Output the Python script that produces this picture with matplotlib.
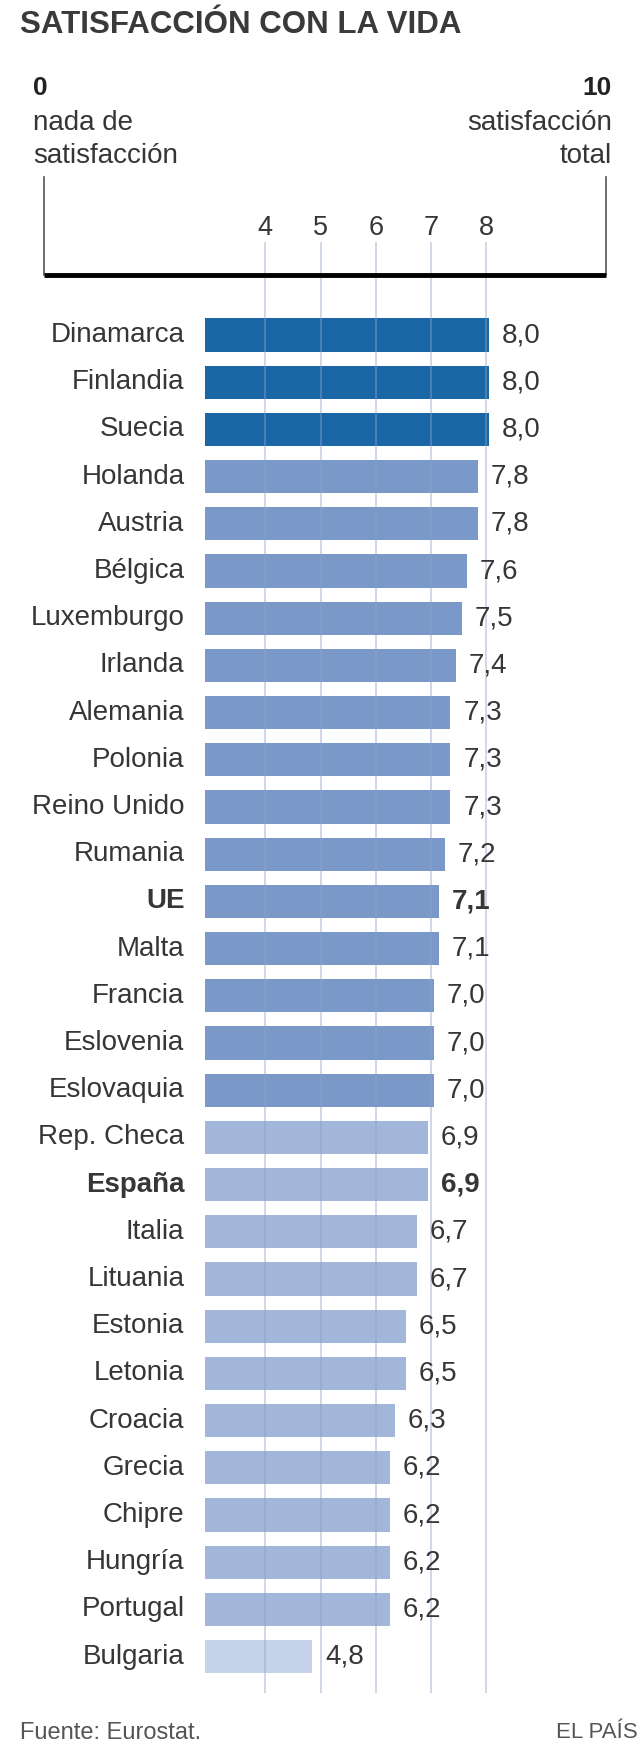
import matplotlib
matplotlib.use("Agg")
import matplotlib.pyplot as plt

plt.rcParams['font.family'] = ['Liberation Sans', 'DejaVu Sans']

countries = ["Dinamarca", "Finlandia", "Suecia", "Holanda", "Austria", "Bélgica",
             "Luxemburgo", "Irlanda", "Alemania", "Polonia", "Reino Unido", "Rumania",
             "UE", "Malta", "Francia", "Eslovenia", "Eslovaquia", "Rep. Checa",
             "España", "Italia", "Lituania", "Estonia", "Letonia", "Croacia",
             "Grecia", "Chipre", "Hungría", "Portugal", "Bulgaria"]
values = [8.0, 8.0, 8.0, 7.8, 7.8, 7.6, 7.5, 7.4, 7.3, 7.3, 7.3, 7.2,
          7.1, 7.1, 7.0, 7.0, 7.0, 6.9, 6.9, 6.7, 6.7, 6.5, 6.5, 6.3,
          6.2, 6.2, 6.2, 6.2, 4.8]
highlight = ["UE", "España"]
grid_ticks = [4, 5, 6, 7, 8]

W, H = 640, 1762
TXT = '#363636'


def fx(px):
    return px / W


def fy(py):
    return 1 - py / H


def bar_color(v):
    if v >= 8:
        return '#1b67a6'
    if v >= 7:
        return '#7a98c8'
    if v >= 6:
        return '#a2b6da'
    return '#c6d2ea'


fig = plt.figure(figsize=(6.4, 17.62), dpi=100)

# row i is centred at 335 + 47.2*i px
top_px, bot_px, row0, step = 242, 1693, 335, 47.2
ax = fig.add_axes([fx(44), fy(bot_px), 553 / W, (bot_px - top_px) / H])
ax.set_xlim(0, 10)
ax.set_ylim((bot_px - row0) / step, (top_px - row0) / step)
ax.axis('off')

base = 2.92
ax.barh(range(len(values)), [v - base + 0.05 for v in values], left=base, height=0.7,
        color=[bar_color(v) for v in values], zorder=2)

for t in grid_ticks:
    ax.axvline(t, color='#8ea2c6', alpha=0.45, lw=1.3, zorder=3)
    ax.text(t, (228 - row0) / step, str(t), ha='center', va='center',
            fontsize=19.5, color=TXT, clip_on=False)

# scale bar on top
y_line = (275 - row0) / step
y_cap = (177 - row0) / step
ax.plot([0, 10.17], [y_line, y_line], color='black', lw=3.5, clip_on=False,
        solid_capstyle='butt', zorder=4)
for xx in [0, 10.17]:
    ax.plot([xx, xx], [y_cap, y_line], color='#555555', lw=1.2, clip_on=False)

for i, (c, v) in enumerate(zip(countries, values)):
    w = 'bold' if c in highlight else 'normal'
    ax.text(base - 0.38, i, c, ha='right', va='center', fontsize=20,
            color=TXT, fontweight=w)
    ax.text(v + 0.28, i, f"{v:.1f}".replace('.', ','), ha='left', va='center',
            fontsize=20, color=TXT, fontweight=w)

fig.text(fx(20), fy(25), "SATISFACCIÓN CON LA VIDA", fontsize=22.5,
         fontweight='bold', color='#3a3a3a', va='center')

fig.text(fx(33), fy(88), "0", fontsize=19, fontweight='bold', color='#222222', va='center')
fig.text(fx(33), fy(123), "nada de", fontsize=20, color=TXT, va='center')
fig.text(fx(33), fy(156), "satisfacción", fontsize=20, color=TXT, va='center')
fig.text(fx(612), fy(88), "10", fontsize=19, fontweight='bold', color='#222222',
         va='center', ha='right')
fig.text(fx(612), fy(123), "satisfacción", fontsize=20, color=TXT, va='center', ha='right')
fig.text(fx(612), fy(156), "total", fontsize=20, color=TXT, va='center', ha='right')

fig.text(fx(20), fy(1733), "Fuente: Eurostat.", fontsize=17, color='#555555', va='center')
fig.text(fx(638), fy(1733), "EL PAÍS", fontsize=16, color='#555555', va='center', ha='right')

fig.savefig("out.png", dpi=100, facecolor='white')
